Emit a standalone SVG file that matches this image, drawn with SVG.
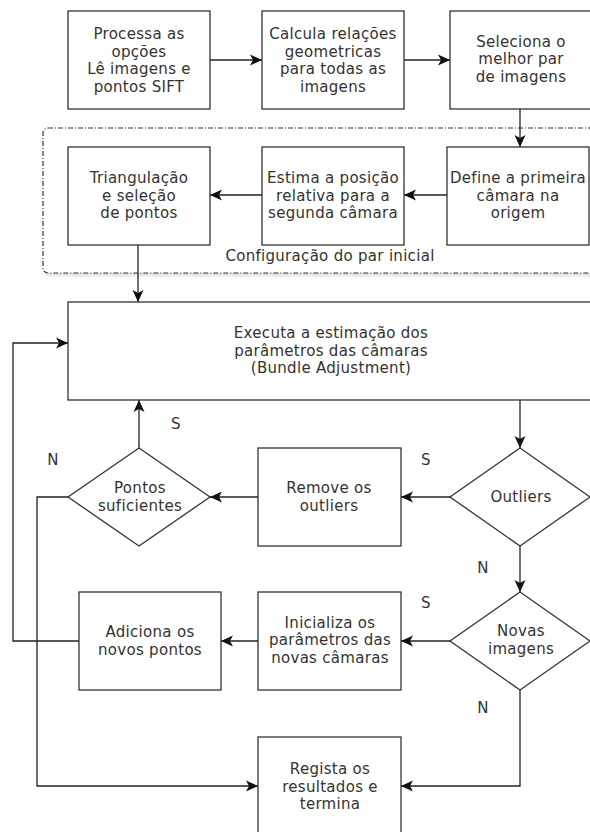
<svg xmlns="http://www.w3.org/2000/svg" width="590" height="832" viewBox="0 0 590 832">
<style>
.box{fill:#fff;stroke:#333;stroke-width:1.3}
.t{font-family:"DejaVu Sans",Verdana,sans-serif;font-size:15px;letter-spacing:0.3px;fill:#333;text-anchor:middle}
.c{fill:none;stroke:#222;stroke-width:1.3}
.grp{fill:#fff;stroke:#333;stroke-width:1.2;stroke-dasharray:5 2 1 2}
</style>
<defs>
<marker id="ar" markerUnits="userSpaceOnUse" markerWidth="14" markerHeight="12" viewBox="-13 -6 14 12" refX="0" refY="0" orient="auto">
<path d="M0,0 L-12,-5.5 L-9,0 L-12,5.5 Z" fill="#111"/>
</marker>
<filter id="sh" x="-5%" y="-5%" width="115%" height="120%">
<feDropShadow dx="2" dy="3" stdDeviation="1.5" flood-color="#000" flood-opacity="0.12"/>
</filter>
</defs>
<g id="group-initial-pair">
<rect class="grp" x="43" y="128" width="560" height="145" rx="5" filter="url(#sh)"/>
<text class="t" x="330" y="261">Configuração do par inicial</text>
</g>
<g id="connectors">
<path class="c" d="M210,60 H262" marker-end="url(#ar)"/>
<path class="c" d="M404,60 H450" marker-end="url(#ar)"/>
<path class="c" d="M520,109 V147" marker-end="url(#ar)"/>
<path class="c" d="M447,195 H404" marker-end="url(#ar)"/>
<path class="c" d="M262,195 H210" marker-end="url(#ar)"/>
<path class="c" d="M138,245 V302" marker-end="url(#ar)"/>
<path class="c" d="M520,400 V448" marker-end="url(#ar)"/>
<path class="c" d="M450,497 H401" marker-end="url(#ar)"/>
<path class="c" d="M258,497 H210" marker-end="url(#ar)"/>
<path class="c" d="M139,448 V400" marker-end="url(#ar)"/>
<path class="c" d="M68,497 H37 V786 H258" marker-end="url(#ar)"/>
<path class="c" d="M520,546 V592" marker-end="url(#ar)"/>
<path class="c" d="M450,641 H401" marker-end="url(#ar)"/>
<path class="c" d="M258,641 H221" marker-end="url(#ar)"/>
<path class="c" d="M79,641 H13 V343 H68" marker-end="url(#ar)"/>
<path class="c" d="M520,690 V786 H401" marker-end="url(#ar)"/>
<text class="t" x="176" y="429">S</text>
<text class="t" x="53" y="465">N</text>
<text class="t" x="426" y="465">S</text>
<text class="t" x="483" y="573">N</text>
<text class="t" x="426" y="608">S</text>
<text class="t" x="483" y="713">N</text>
</g>
<g id="n1">
<rect class="box" x="68" y="11" width="142" height="98"/>
<text class="t" x="139" y="39">Processa as</text>
<text class="t" x="139" y="57">opções</text>
<text class="t" x="139" y="74">Lê imagens e</text>
<text class="t" x="139" y="92">pontos SIFT</text>
</g>
<g id="n2">
<rect class="box" x="262" y="11" width="142" height="98"/>
<text class="t" x="333" y="39">Calcula relações</text>
<text class="t" x="333" y="57">geometricas</text>
<text class="t" x="333" y="74">para todas as</text>
<text class="t" x="333" y="92">imagens</text>
</g>
<g id="n3">
<rect class="box" x="450" y="11" width="142" height="98"/>
<text class="t" x="521" y="47">Seleciona o</text>
<text class="t" x="521" y="64">melhor par</text>
<text class="t" x="521" y="82">de imagens</text>
</g>
<g id="n4">
<rect class="box" x="447" y="147" width="142" height="98"/>
<text class="t" x="518" y="183">Define a primeira</text>
<text class="t" x="518" y="201">câmara na</text>
<text class="t" x="518" y="218">origem</text>
</g>
<g id="n5">
<rect class="box" x="262" y="147" width="142" height="98"/>
<text class="t" x="333" y="183">Estima a posição</text>
<text class="t" x="333" y="201">relativa para a</text>
<text class="t" x="333" y="218">segunda câmara</text>
</g>
<g id="n6">
<rect class="box" x="68" y="147" width="142" height="98"/>
<text class="t" x="139" y="183">Triangulação</text>
<text class="t" x="139" y="201">e seleção</text>
<text class="t" x="139" y="218">de pontos</text>
</g>
<g id="n7">
<rect class="box" x="68" y="302" width="530" height="98"/>
<text class="t" x="331" y="338">Executa a estimação dos</text>
<text class="t" x="331" y="356">parâmetros das câmaras</text>
<text class="t" x="331" y="373">(Bundle Adjustment)</text>
</g>
<g id="n8">
<path class="box" d="M520,448 L590,497 L520,546 L450,497 Z"/>
<text class="t" x="521" y="502">Outliers</text>
</g>
<g id="n9">
<rect class="box" x="258" y="448" width="143" height="98"/>
<text class="t" x="329" y="493">Remove os</text>
<text class="t" x="329" y="511">outliers</text>
</g>
<g id="n10">
<path class="box" d="M139,448 L210,497 L139,546 L68,497 Z"/>
<text class="t" x="140" y="493">Pontos</text>
<text class="t" x="140" y="511">suficientes</text>
</g>
<g id="n11">
<path class="box" d="M520,592 L590,641 L520,690 L450,641 Z"/>
<text class="t" x="521" y="636">Novas</text>
<text class="t" x="521" y="654">imagens</text>
</g>
<g id="n12">
<rect class="box" x="258" y="592" width="143" height="98"/>
<text class="t" x="330" y="628">Inicializa os</text>
<text class="t" x="330" y="645">parâmetros das</text>
<text class="t" x="330" y="663">novas câmaras</text>
</g>
<g id="n13">
<rect class="box" x="79" y="592" width="142" height="98"/>
<text class="t" x="150" y="637">Adiciona os</text>
<text class="t" x="150" y="655">novos pontos</text>
</g>
<g id="n14">
<rect class="box" x="258" y="737" width="143" height="98"/>
<text class="t" x="330" y="774">Regista os</text>
<text class="t" x="330" y="792">resultados e</text>
<text class="t" x="330" y="809">termina</text>
</g>
</svg>
